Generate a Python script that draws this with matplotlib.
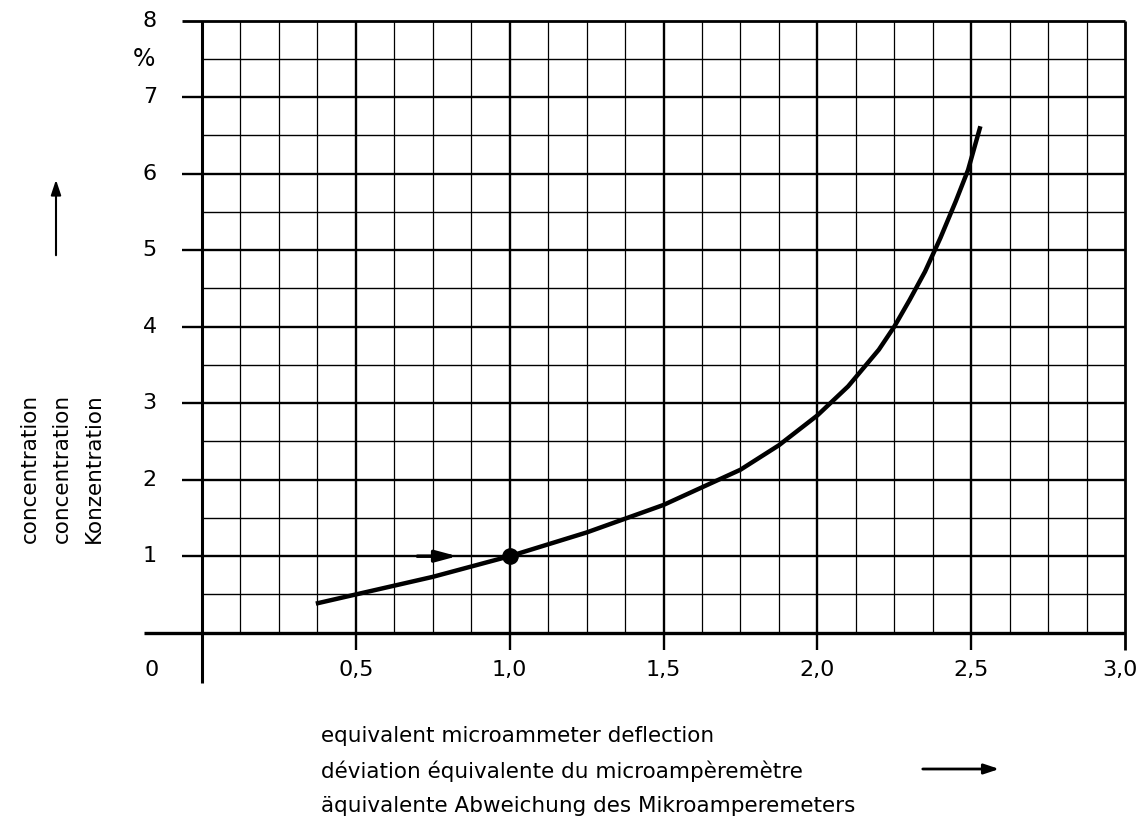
import numpy as np
import matplotlib
matplotlib.use("Agg")
import matplotlib.pyplot as plt
from matplotlib.patches import FancyArrowPatch

# curve
deflection = [0.37, 0.5, 0.75, 1.0, 1.25, 1.5, 1.75, 1.875, 2.0, 2.1, 2.2, 2.25,
               2.3, 2.35, 2.4, 2.45, 2.49, 2.53]
concentration = [0.38, 0.50, 0.73, 1.00, 1.31, 1.67, 2.13, 2.45, 2.84, 3.22, 3.70, 4.00,
                 4.35, 4.72, 5.16, 5.64, 6.05, 6.62]

x_ticks = [0.5, 1.0, 1.5, 2.0, 2.5, 3.0]
x_labels = ["0,5", "1,0", "1,5", "2,0", "2,5", "3,0"]
y_ticks = [1, 2, 3, 4, 5, 6, 7, 8]

xlabel_lines = ["equivalent microammeter deflection",
                "déviation équivalente du microampèremètre",
                "äquivalente Abweichung des Mikroamperemeters"]
ylabel_lines = ["concentration", "concentration", "Konzentration"]

W, H = 1145, 825
fig = plt.figure(figsize=(W / 100, H / 100), dpi=100)
plt.rcParams['font.family'] = ['DejaVu Sans']

def fx(px):
    return px / W

def fy(py):
    return 1 - py / H

ax = fig.add_axes([fx(202), fy(632.7), fx(1125) - fx(202), fy(20.7) - fy(632.7)])
ax.set_xlim(0, 3)
ax.set_ylim(0, 8)
ax.axis("off")

k = dict(color="black", clip_on=False, solid_capstyle="butt")

# vertical grid, every 0.125
for x in np.arange(0.125, 3.0, 0.125):
    if abs(x * 2 - round(x * 2)) < 1e-9:
        ax.plot([x, x], [-0.23, 8], lw=1.7, **k)
    else:
        ax.plot([x, x], [0, 8], lw=0.9, **k)

# horizontal grid, every 0.5
for y in np.arange(0.5, 8.0, 0.5):
    if abs(y - round(y)) < 1e-9:
        ax.plot([-0.066, 3], [y, y], lw=1.7, **k)
    else:
        ax.plot([0, 3], [y, y], lw=1.0, **k)

# frame / axes lines
ax.plot([0, 0], [-0.66, 8], lw=2.2, **k)
ax.plot([-0.19, 3], [0, 0], lw=2.4, **k)
ax.plot([3, 3], [-0.23, 8], lw=2.0, **k)
ax.plot([-0.066, 3], [8, 8], lw=2.0, **k)

# curve and reference point
ax.plot(deflection, concentration, color="black", lw=3.2, solid_capstyle="butt",
        solid_joinstyle="round", zorder=5)
ax.plot([1.0], [1.0], "o", color="black", ms=11, zorder=6)
ax.annotate("", xy=(0.83, 1.0), xytext=(0.70, 1.0),
            arrowprops=dict(arrowstyle="-|>,head_length=1.3,head_width=0.35",
                            color="black", lw=2.5, shrinkA=0, shrinkB=0), zorder=6)

fs = 16
for x, lab in zip(x_ticks, x_labels):
    # keep the last label inside the picture
    ax.text(min(x, 2.985), -0.49, lab, ha="center", va="center", fontsize=fs)
ax.text(-0.165, -0.49, "0", ha="center", va="center", fontsize=fs)
for y in y_ticks:
    ax.text(-0.17, y, str(y), ha="center", va="center", fontsize=fs)
ax.text(-0.19, 7.5, "%", ha="center", va="center", fontsize=17)

# axis titles
for i, line in enumerate(xlabel_lines):
    fig.text(fx(321), fy(736 + 35 * i), line, ha="left", va="center", fontsize=15.5)
fig.add_artist(FancyArrowPatch(
    (fx(920), fy(769)), (fx(1002), fy(769)), transform=fig.transFigure,
    arrowstyle="-|>,head_length=9,head_width=3", mutation_scale=1, color="black", lw=2))

for i, line in enumerate(ylabel_lines):
    fig.text(fx(30 + 32 * i), fy(543), line, rotation=90, rotation_mode="anchor",
             ha="left", va="center", fontsize=15.5)
fig.add_artist(FancyArrowPatch(
    (fx(56), fy(258)), (fx(56), fy(177)), transform=fig.transFigure,
    arrowstyle="-|>,head_length=9,head_width=3", mutation_scale=1, color="black", lw=1.5))

fig.savefig("out.png", dpi=100, facecolor="white")
